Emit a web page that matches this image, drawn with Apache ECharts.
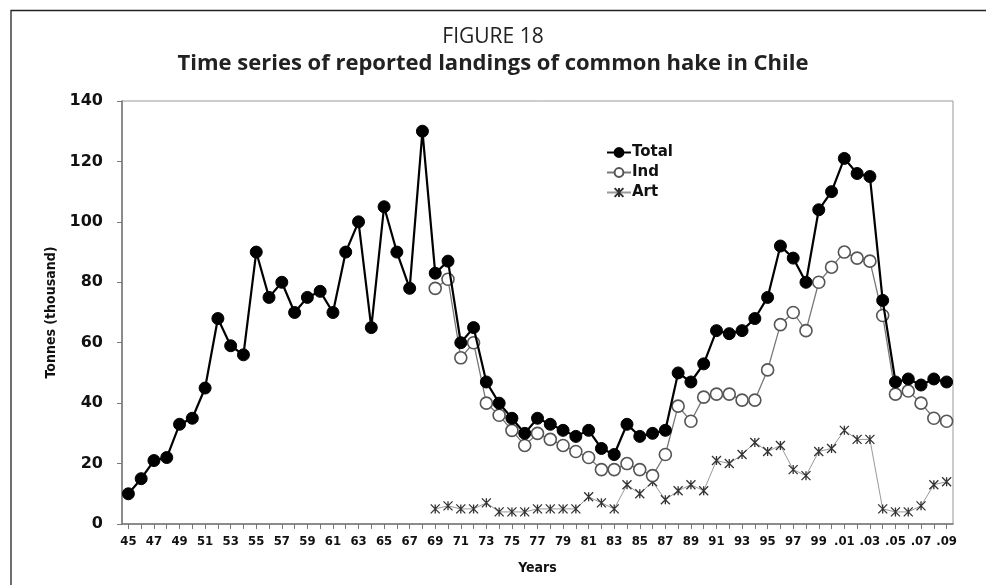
<!DOCTYPE html>
<html>
<head>
<meta charset="utf-8">
<script src="https://cdn.jsdelivr.net/npm/echarts@6/dist/echarts.min.js"></script>
<style>
  html, body { margin: 0; padding: 0; background: #fff; }
  #chart { width: 986px; height: 585px; }
</style>
</head>
<body>
<div id="chart"></div>
<script>
// Years 1945–2009, labelled the way the fisheries report writes them
const years = [
  '45','46','47','48','49','50','51','52','53','54','55','56','57','58','59',
  '60','61','62','63','64','65','66','67','68','69','70','71','72','73','74',
  '75','76','77','78','79','80','81','82','83','84','85','86','87','88','89',
  '90','91','92','93','94','95','96','97','98','99',
  '.00','.01','.02','.03','.04','.05','.06','.07','.08','.09'
];

// Reported landings, thousand tonnes
const total = [
  10, 15, 21, 22, 33, 35, 45, 68, 59, 56, 90, 75, 80, 70, 75,
  77, 70, 90, 100, 65, 105, 90, 78, 130, 83, 87, 60, 65, 47, 40,
  35, 30, 35, 33, 31, 29, 31, 25, 23, 33, 29, 30, 31, 50, 47,
  53, 64, 63, 64, 68, 75, 92, 88, 80, 104,
  110, 121, 116, 115, 74, 47, 48, 46, 48, 47
];
// Industrial fleet
const ind = [
  null, null, null, null, null, null, null, null, null, null, null, null, null, null, null,
  null, null, null, null, null, null, null, null, null, 78, 81, 55, 60, 40, 36,
  31, 26, 30, 28, 26, 24, 22, 18, 18, 20, 18, 16, 23, 39, 34,
  42, 43, 43, 41, 41, 51, 66, 70, 64, 80,
  85, 90, 88, 87, 69, 43, 44, 40, 35, 34
];
// Artisanal fleet
const art = [
  null, null, null, null, null, null, null, null, null, null, null, null, null, null, null,
  null, null, null, null, null, null, null, null, null, 5, 6, 5, 5, 7, 4,
  4, 4, 5, 5, 5, 5, 9, 7, 5, 13, 10, 14, 8, 11, 13,
  11, 21, 20, 23, 27, 24, 26, 18, 16, 24,
  25, 31, 28, 28, 5, 4, 4, 6, 13, 14
];

const yTicks = { min: 0, max: 140, interval: 20 };

const narrow = "'Liberation Sans Narrow', 'DejaVu Sans Condensed', 'Arial Narrow', sans-serif";
const heavy = "'DejaVu Sans', Verdana, sans-serif";
const asterisk = 'path://M0,0L10,10M10,0L0,10M5,0L5,10';

const chart = echarts.init(document.getElementById('chart'), null, { renderer: 'canvas' });

chart.setOption({
  animation: false,
  backgroundColor: '#fff',
  title: [
    {
      text: 'FIGURE 18',
      left: 'center',
      top: 22,
      textStyle: { fontFamily: "'Open Sans', sans-serif", fontWeight: 'normal', fontSize: 21, color: '#222' }
    },
    {
      text: 'Time series of reported landings of common hake in Chile',
      left: 'center',
      top: 48,
      textStyle: { fontFamily: "'Open Sans', sans-serif", fontWeight: 'bold', fontSize: 22, color: '#222' }
    }
  ],
  graphic: [
    {
      type: 'polyline',
      shape: { points: [[11, 585], [11, 10.5], [986, 10.5]] },
      style: { stroke: '#222', lineWidth: 1.3, fill: null },
      silent: true
    }
  ],
  legend: {
    orient: 'vertical',
    left: 601,
    top: 140,
    itemWidth: 24,
    itemHeight: 11,
    itemGap: 5,
    textStyle: { fontFamily: heavy, fontWeight: 'bold', fontSize: 15, color: '#111', padding: [0, 0, 0, -4] },
    data: ['Total', 'Ind', 'Art']
  },
  grid: {
    left: 122,
    right: 33,
    top: 101,
    bottom: 61,
    show: true,
    borderColor: '#999',
    borderWidth: 1
  },
  xAxis: {
    type: 'category',
    data: years,
    boundaryGap: true,
    name: 'Years',
    nameLocation: 'middle',
    nameGap: 37,
    nameTextStyle: { fontFamily: narrow, fontWeight: 'bold', fontSize: 14, color: '#111' },
    axisLine: { lineStyle: { color: '#777', width: 1.5 } },
    axisTick: { show: true, alignWithLabel: true, interval: 0, length: 5, lineStyle: { color: '#777' } },
    axisLabel: {
      interval: 1,
      margin: 11,
      fontFamily: narrow,
      fontWeight: 'bold',
      fontSize: 13,
      color: '#111'
    },
    splitLine: { show: false }
  },
  yAxis: {
    type: 'value',
    min: yTicks.min,
    max: yTicks.max,
    interval: yTicks.interval,
    name: 'Tonnes (thousand)',
    nameLocation: 'middle',
    nameRotate: 90,
    nameGap: 64,
    nameTextStyle: { fontFamily: narrow, fontWeight: 'bold', fontSize: 14, color: '#111' },
    axisLine: { show: true, lineStyle: { color: '#777', width: 1.5 } },
    axisTick: { show: true, length: 5, lineStyle: { color: '#777' } },
    axisLabel: { margin: 19, fontFamily: heavy, fontWeight: 'bold', fontSize: 16, color: '#111' },
    splitLine: { show: false }
  },
  series: [
    {
      name: 'Total',
      type: 'line',
      data: total,
      z: 5,
      showAllSymbol: true,
      symbol: 'circle',
      symbolSize: 12,
      lineStyle: { color: '#000', width: 2.2 },
      itemStyle: { color: '#000', borderColor: '#000', borderWidth: 1 }
    },
    {
      name: 'Ind',
      type: 'line',
      data: ind,
      z: 4,
      showAllSymbol: true,
      symbol: 'circle',
      symbolSize: 12,
      lineStyle: { color: '#777', width: 1.3 },
      itemStyle: { color: '#fff', borderColor: '#555', borderWidth: 1.6 }
    },
    {
      name: 'Art',
      type: 'line',
      data: art,
      z: 3,
      showAllSymbol: true,
      symbol: asterisk,
      symbolSize: 9,
      lineStyle: { color: '#999', width: 1 },
      itemStyle: { color: 'none', borderColor: '#333', borderWidth: 1.3 }
    }
  ]
});
</script>
</body>
</html>
